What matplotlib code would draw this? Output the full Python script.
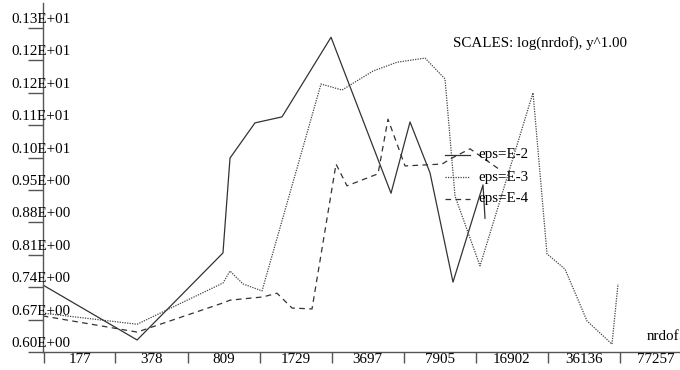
import numpy as np
import matplotlib
matplotlib.use("Agg")
import matplotlib.pyplot as plt
from matplotlib.lines import Line2D

plt.rcParams['font.family'] = ['Liberation Serif', 'DejaVu Serif']

# data (nrdof on log axis, value on linear axis)
nrdof_e2 = [120, 325, 804, 866, 1127, 1499, 2514, 4734, 5786, 7144, 9104, 12496, 12763]
val_e2 = [0.745, 0.626, 0.814, 1.019, 1.095, 1.108, 1.280, 0.943, 1.097, 0.987, 0.751, 0.961, 0.889]

nrdof_e3 = [120, 325, 804, 866, 993, 1214, 2262, 2823, 3916, 5043, 6778, 8369, 9298,
            12106, 21179, 24547, 29687, 37443, 48730, 51917]
val_e3 = [0.684, 0.660, 0.749, 0.775, 0.747, 0.732, 1.179, 1.166, 1.207, 1.226, 1.235, 1.190, 0.937,
          0.786, 1.160, 0.812, 0.779, 0.667, 0.617, 0.747]

nrdof_e4 = [120, 325, 804, 866, 1227, 1422, 1666, 2057, 2650, 2976, 4128, 4586, 5489,
            8108, 9009, 10894, 14795]
val_e4 = [0.678, 0.643, 0.706, 0.712, 0.719, 0.727, 0.695, 0.693, 1.006, 0.959, 0.985, 1.103, 1.002,
          1.006, 1.019, 1.039, 0.995]

y_ticks = [0.60, 0.67, 0.74, 0.81, 0.88, 0.95, 1.02, 1.09, 1.16, 1.23, 1.30]
y_labels = ['0.60E+00', '0.67E+00', '0.74E+00', '0.81E+00', '0.88E+00', '0.95E+00',
            '0.10E+01', '0.11E+01', '0.12E+01', '0.12E+01', '0.13E+01']
x_labels = [177, 378, 809, 1729, 3697, 7905, 16902, 36136, 77257]
step = 2.1375  # ratio between x labels

W, H = 680, 370
FS = 10.8
fig = plt.figure(figsize=(W / 100, H / 100), dpi=100)
ax = fig.add_axes([43 / W, (H - 352) / H, (W - 43) / W, (352 - 3) / H])

ax.plot(nrdof_e2, val_e2, color='#333333', lw=0.9, ls='-')
ax.plot(nrdof_e3, val_e3, color='#444444', lw=0.9, ls=(0, (1, 1)))
ax.plot(nrdof_e4, val_e4, color='#333333', lw=0.9, ls=(0, (4.5, 3.5)))

ax.set_xscale('log')
ax.set_xlim(120.4, 99860)
ax.set_ylim(0.6, 1.354)

for s in ['top', 'right']:
    ax.spines[s].set_visible(False)
for s in ['left', 'bottom']:
    ax.spines[s].set_color('#555555')
    ax.spines[s].set_linewidth(1.0)

# x: tick marks between labels, labels at label positions
ax.xaxis.set_major_locator(matplotlib.ticker.FixedLocator([v / np.sqrt(step) for v in x_labels]))
ax.xaxis.set_major_formatter(matplotlib.ticker.NullFormatter())
ax.xaxis.set_minor_locator(matplotlib.ticker.FixedLocator(x_labels))
ax.xaxis.set_minor_formatter(matplotlib.ticker.FixedFormatter([str(v) for v in x_labels]))
ax.tick_params(axis='x', which='major', direction='out', length=8, width=1, color='#555555')
ax.tick_params(axis='x', which='minor', length=0, pad=0.5, labelsize=FS)

# y: tick marks, labels drawn over the axis
ax.set_yticks(y_ticks)
ax.set_yticklabels([])
ax.tick_params(axis='y', which='both', direction='out', length=11, width=1, color='#555555')
for v, lab in zip(y_ticks, y_labels):
    ax.annotate(lab, xy=(0, v), xycoords=ax.get_yaxis_transform(),
                xytext=(-32, 5), textcoords='offset pixels',
                ha='left', va='baseline', fontsize=FS)

fig.text(679 / W, 1 - 336 / H, 'nrdof', ha='right', va='center', fontsize=FS)
fig.text(453 / W, 1 - 43 / H, 'SCALES: log(nrdof), y^1.00', ha='left', va='center', fontsize=FS)

# legend
leg = [('eps=E-2', 155, '-', '#333333'), ('eps=E-3', 177, (0, (1, 1)), '#444444'),
       ('eps=E-4', 199, (0, (4.5, 3.5)), '#333333')]
for lab, py, ls, c in leg:
    fig.add_artist(Line2D([445 / W, 470 / W], [1 - py / H] * 2, color=c, lw=0.9, ls=ls))
    fig.text(478 / W, 1 - py / H, lab, ha='left', va='center', fontsize=FS)

fig.savefig('out.png', dpi=100)
